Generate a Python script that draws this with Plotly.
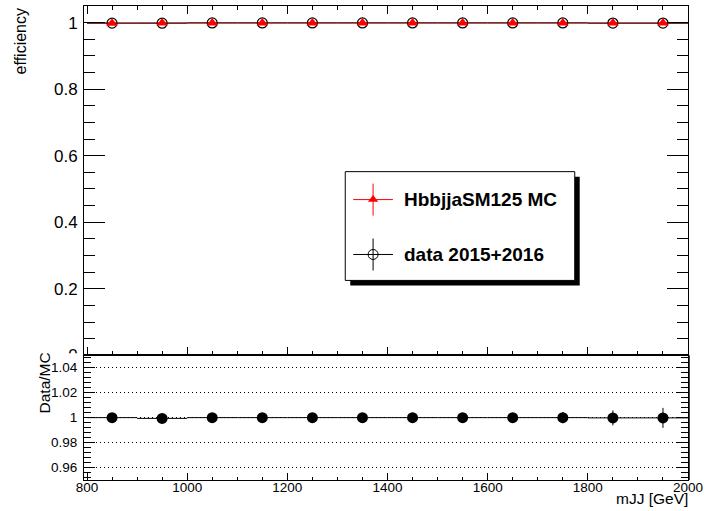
import plotly.graph_objects as go

# mJJ bins (GeV): centres and half-widths
mjj_centres = [850, 950, 1050, 1150, 1250, 1350, 1450, 1550, 1650, 1750, 1850, 1950]
bin_halfwidth = [50] * 12

# trigger efficiency in MC and data
eff_mc = [0.9985, 0.9990, 0.9990, 0.9990, 0.9990, 0.9990, 0.9990, 0.9990, 0.9990, 0.9990, 0.9990, 0.9990]
eff_mc_err = [0.001] * 12
eff_data = [0.9985, 0.9983, 0.9990, 0.9990, 0.9990, 0.9990, 0.9990, 0.9990, 0.9990, 0.9990, 0.9988, 0.9988]
eff_data_err = [0.001] * 12

# data / MC ratio
ratio = [1.0000, 0.9994, 1.0000, 1.0000, 1.0000, 1.0000, 1.0000, 1.0000, 1.0000, 1.0000, 0.9998, 0.9998]
ratio_err = [0.001, 0.002, 0.001, 0.001, 0.001, 0.001, 0.001, 0.001, 0.002, 0.0045, 0.006, 0.008]

legend_labels = ["HbbjjaSM125 MC", "data 2015+2016"]

FONT = "Liberation Sans, Arial, Helvetica, sans-serif"

# frame geometry in pixels
W, H = 708, 511
L, R, T, B = 84, 692, 5, 480
SPLIT = 355


def py(y):
    return (B - y) / (B - T)


def px(x):
    return (x - L) / (R - L)


fig = go.Figure()

# --- upper pad: efficiencies ---
fig.add_trace(go.Scatter(
    x=mjj_centres, y=eff_data, mode="markers",
    marker=dict(symbol="circle-open", size=10, color="black", line=dict(width=1.2, color="black")),
    error_x=dict(type="data", array=bin_halfwidth, color="black", thickness=1.2, width=0),
    error_y=dict(type="data", array=eff_data_err, color="black", thickness=1, width=0),
    xaxis="x", yaxis="y", showlegend=False,
))
fig.add_trace(go.Scatter(
    x=mjj_centres, y=eff_mc, mode="markers",
    marker=dict(symbol="triangle-up", size=10, color="red", line=dict(width=0)),
    error_x=dict(type="data", array=bin_halfwidth, color="rgba(255,0,0,0.45)", thickness=1.2, width=0),
    error_y=dict(type="data", array=eff_mc_err, color="red", thickness=1, width=0),
    xaxis="x", yaxis="y", showlegend=False,
))

# --- lower pad: ratio ---
fig.add_trace(go.Scatter(
    x=mjj_centres, y=ratio, mode="markers",
    marker=dict(symbol="circle", size=11, color="black"),
    error_x=dict(type="data", array=bin_halfwidth, color="black", thickness=1, width=0),
    error_y=dict(type="data", array=ratio_err, color="black", thickness=1, width=0),
    xaxis="x2", yaxis="y2", showlegend=False,
))

# --- legend keys (pixel-coordinate overlay axes) ---
leg_x0, leg_x1, leg_y0, leg_y1 = 347, 578, 171, 280
key_x, key_y = 375, [199, 254]
fig.add_trace(go.Scatter(
    x=[key_x], y=[key_y[0]], mode="markers",
    marker=dict(symbol="triangle-up", size=9, color="red"),
    error_x=dict(type="constant", value=20, color="red", thickness=1, width=0),
    error_y=dict(type="constant", value=16, color="red", thickness=1, width=0),
    xaxis="x3", yaxis="y3", showlegend=False, hoverinfo="skip",
))
fig.add_trace(go.Scatter(
    x=[key_x], y=[key_y[1]], mode="markers",
    marker=dict(symbol="circle-open", size=10, color="black", line=dict(width=1)),
    error_x=dict(type="constant", value=20, color="black", thickness=1, width=0),
    error_y=dict(type="constant", value=16, color="black", thickness=1, width=0),
    xaxis="x3", yaxis="y3", showlegend=False, hoverinfo="skip",
))

shapes = [
    # legend shadow and box
    dict(type="rect", xref="x3", yref="y3", x0=leg_x0 + 5, x1=leg_x1 + 5, y0=leg_y0 + 5, y1=leg_y1 + 5,
         fillcolor="black", line=dict(width=0), layer="below"),
    dict(type="rect", xref="x3", yref="y3", x0=leg_x0, x1=leg_x1, y0=leg_y0, y1=leg_y1,
         fillcolor="white", line=dict(color="black", width=1), layer="below"),
    # lower pad overlaps the bottom of the upper pad's "0" label
    dict(type="rect", xref="paper", yref="paper", x0=px(2), x1=px(L - 1), y0=py(361), y1=py(SPLIT - 2),
         fillcolor="white", line=dict(width=0), layer="above"),
    # thicker right frame edge of the ratio pad
    dict(type="line", xref="paper", yref="paper", x0=px(R + 1), x1=px(R + 1), y0=0, y1=py(SPLIT),
         line=dict(color="black", width=1.5), layer="above"),
]

annotations = [
    dict(text=legend_labels[0], x=404, y=key_y[0], xref="x3", yref="y3", xanchor="left", yanchor="middle",
         showarrow=False, font=dict(family=FONT, size=19, color="black", weight="bold")),
    dict(text=legend_labels[1], x=404, y=key_y[1], xref="x3", yref="y3", xanchor="left", yanchor="middle",
         showarrow=False, font=dict(family=FONT, size=19, color="black", weight="bold")),
    dict(text="efficiency", x=px(20), y=py(T), xref="paper", yref="paper", textangle=-90,
         xanchor="center", yanchor="top", showarrow=False, font=dict(family=FONT, size=16, color="black")),
    dict(text="Data/MC", x=px(44), y=py(383), xref="paper", yref="paper", textangle=-90,
         xanchor="center", yanchor="middle", showarrow=False, font=dict(family=FONT, size=15.5, color="black")),
    dict(text="mJJ [GeV]", x=px(694), y=py(499), xref="paper", yref="paper",
         xanchor="right", yanchor="middle", showarrow=False, font=dict(family=FONT, size=15.5, color="black")),
]

split_frac = py(SPLIT)
xrange = [794, 2000]

axis_common = dict(showline=True, linecolor="black", linewidth=1, zeroline=False, showgrid=False)

fig.update_layout(
    width=W, height=H,
    margin=dict(l=L, r=W - R, t=T, b=H - B),
    paper_bgcolor="white", plot_bgcolor="white",
    showlegend=False,
    font=dict(family=FONT, color="black"),
    shapes=shapes, annotations=annotations,
    xaxis=dict(**axis_common, domain=[0, 1], anchor="y", range=xrange, mirror="ticks",
               ticks="inside", ticklen=8, tickcolor="black", tickvals=[800, 1000, 1200, 1400, 1600, 1800, 2000],
               showticklabels=False,
               minor=dict(ticks="inside", ticklen=4, dtick=50, tick0=800, tickcolor="black")),
    yaxis=dict(**axis_common, domain=[split_frac, 1], anchor="x", range=[0, 1.05], mirror="ticks",
               ticks="inside", ticklen=21, tickcolor="black",
               tickvals=[0, 0.2, 0.4, 0.6, 0.8, 1.0], ticktext=["0", "0.2", "0.4", "0.6", "0.8", "1"],
               tickfont=dict(family=FONT, size=17, color="black"), ticklabelstandoff=2,
               minor=dict(ticks="inside", ticklen=11, dtick=0.05, tick0=0, tickcolor="black")),
    xaxis2=dict(**axis_common, domain=[0, 1], anchor="y2", range=xrange, mirror=True, matches="x",
                ticks="inside", ticklen=7, tickcolor="black", tickvals=[800, 1000, 1200, 1400, 1600, 1800, 2000],
                tickfont=dict(family=FONT, size=13.5, color="black"), ticklabelstandoff=-5,
                minor=dict(ticks="inside", ticklen=3, dtick=50, tick0=800, tickcolor="black")),
    yaxis2=dict(showline=True, linecolor="black", linewidth=1, zeroline=False,
                domain=[0, split_frac], anchor="x2", range=[0.95, 1.05], mirror="ticks",
                ticks="inside", ticklen=11, tickcolor="black",
                tickvals=[0.96, 0.98, 1.0, 1.02, 1.04], ticktext=["0.96", "0.98", "1", "1.02", "1.04"],
                tickfont=dict(family=FONT, size=13.5, color="black"), ticklabelstandoff=3,
                showgrid=True, gridcolor="black", gridwidth=1, griddash="1px,3px",
                minor=dict(ticks="inside", ticklen=7, dtick=0.004, tick0=0.96, tickcolor="black", showgrid=False)),
    xaxis3=dict(domain=[px(leg_x0 - 10), px(leg_x1 + 15)], range=[leg_x0 - 10, leg_x1 + 15], anchor="y3",
                visible=False, fixedrange=True),
    yaxis3=dict(domain=[py(leg_y1 + 15), py(leg_y0 - 10)], range=[leg_y1 + 15, leg_y0 - 10], anchor="x3",
                visible=False, fixedrange=True),
)

fig.write_html("out.html")
